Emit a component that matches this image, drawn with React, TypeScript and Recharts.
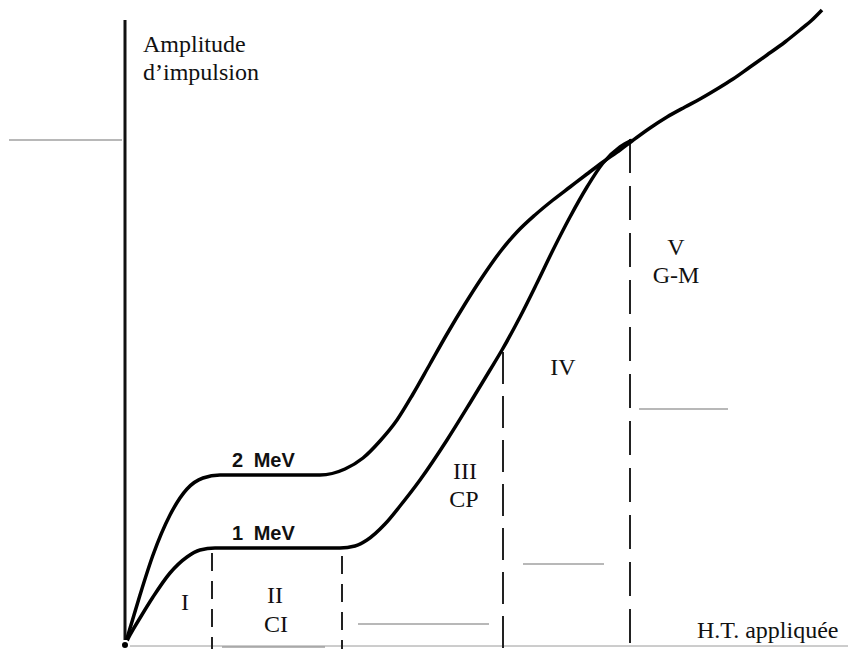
import React from 'react';
import { LineChart, Line, XAxis, YAxis, ReferenceLine, ReferenceDot } from 'recharts';

// Units: v = applied voltage (arbitrary), a = pulse amplitude (arbitrary)
const curve2MeV = [
  { v: 0, a: 0 }, { v: 6, a: 20 }, { v: 15, a: 50 }, { v: 28, a: 90 }, { v: 45, a: 130 },
  { v: 62, a: 156 }, { v: 78, a: 167 }, { v: 95, a: 170 }, { v: 195, a: 170 }, { v: 220, a: 176 },
  { v: 238, a: 187 }, { v: 255, a: 204 }, { v: 272, a: 225 }, { v: 288, a: 251 }, { v: 305, a: 281 },
  { v: 322, a: 311 }, { v: 340, a: 341 }, { v: 358, a: 369 }, { v: 375, a: 393 }, { v: 392, a: 413 },
  { v: 410, a: 430 }, { v: 428, a: 445 }, { v: 445, a: 458 }, { v: 462, a: 471 }, { v: 478, a: 483 },
  { v: 495, a: 495 }, { v: 507, a: 504 }, { v: 525, a: 517 }, { v: 542, a: 528 }, { v: 560, a: 538 },
  { v: 575, a: 546 }, { v: 592, a: 556 }, { v: 608, a: 566 }, { v: 625, a: 578 }, { v: 642, a: 590 },
  { v: 660, a: 603 }, { v: 675, a: 615 }, { v: 687, a: 625 }, { v: 697, a: 635 },
];

const curve1MeV = [
  { v: 0, a: 0 }, { v: 5, a: 10 }, { v: 15, a: 27 }, { v: 28, a: 48 }, { v: 45, a: 72 },
  { v: 62, a: 88 }, { v: 75, a: 95 }, { v: 90, a: 97 }, { v: 215, a: 97 }, { v: 230, a: 99 },
  { v: 242, a: 105 }, { v: 260, a: 121 }, { v: 275, a: 139 }, { v: 295, a: 165 }, { v: 322, a: 205 },
  { v: 345, a: 242 }, { v: 365, a: 275 }, { v: 377, a: 295 }, { v: 395, a: 328 }, { v: 412, a: 362 },
  { v: 428, a: 395 }, { v: 445, a: 428 }, { v: 462, a: 458 }, { v: 478, a: 482 }, { v: 495, a: 498 },
  { v: 507, a: 505 },
];

// Region boundaries (dashed) : position and top
const boundaries = [
  { v: 87, top: 92, dash: '18 10' },
  { v: 217, top: 89, dash: '18 10' },
  { v: 378, top: 293, dash: '32 12' },
  { v: 505, top: 506, dash: '34 13' },
];

// Light scan rule lines
const greyRules = [
  { v1: -116, v2: -3, a: 505 },
  { v1: 514, v2: 603, a: 236 },
  { v1: 398, v2: 479, a: 81 },
  { v1: 233, v2: 364, a: 21 },
  { v1: 97, v2: 200, a: -2 },
];

const serifLabels = [
  { text: 'Amplitude', v: 18, a: 593, anchor: 'start' },
  { text: 'd\u2019impulsion', v: 18, a: 565, anchor: 'start' },
  { text: 'I', v: 60, a: 35, anchor: 'middle' },
  { text: 'II', v: 150, a: 42, anchor: 'middle' },
  { text: 'CI', v: 151, a: 13, anchor: 'middle' },
  { text: 'III', v: 340, a: 166, anchor: 'middle' },
  { text: 'CP', v: 339, a: 138, anchor: 'middle' },
  { text: 'IV', v: 438, a: 270, anchor: 'middle' },
  { text: 'V', v: 551, a: 390, anchor: 'middle' },
  { text: 'G-M', v: 551, a: 362, anchor: 'middle' },
  { text: 'H.T. appliquée', v: 572, a: 7, anchor: 'start' },
];

const curveLabels = [
  { text: '2 MeV', v: 107, a: 178 },
  { text: '1 MeV', v: 107, a: 105 },
];

export default function App() {
  return (
    <div style={{ position: 'absolute', left: 0, top: 0, width: 848, height: 649, background: '#fff' }}>
      <LineChart width={848} height={649} margin={{ top: 0, right: 0, bottom: 0, left: 0 }}>
        <XAxis type="number" dataKey="v" domain={[-125, 723]} hide allowDataOverflow />
        <YAxis type="number" dataKey="a" domain={[-4, 645]} hide allowDataOverflow />

        {greyRules.map((g, i) => (
          <ReferenceLine
            key={'g' + i}
            segment={[{ x: g.v1, y: g.a }, { x: g.v2, y: g.a }]}
            stroke="#b8b8b8"
            strokeWidth={2}
            ifOverflow="visible"
          />
        ))}

        <ReferenceLine
          segment={[{ x: 0, y: -1 }, { x: 723, y: -1 }]}
          stroke="#9a9a9a"
          strokeWidth={1}
          ifOverflow="visible"
        />
        <ReferenceLine
          segment={[{ x: 0, y: 625 }, { x: 0, y: -4 }]}
          stroke="#111"
          strokeWidth={3}
          ifOverflow="visible"
        />

        {boundaries.map((b, i) => (
          <ReferenceLine
            key={'b' + i}
            segment={[{ x: b.v, y: b.top }, { x: b.v, y: -4 }]}
            stroke="#222"
            strokeWidth={2}
            strokeDasharray={b.dash}
            ifOverflow="visible"
          />
        ))}

        <Line
          data={curve2MeV}
          dataKey="a"
          type="monotone"
          stroke="#000"
          strokeWidth={3.5}
          dot={false}
          isAnimationActive={false}
        />
        <Line
          data={curve1MeV}
          dataKey="a"
          type="monotone"
          stroke="#000"
          strokeWidth={3.5}
          dot={false}
          isAnimationActive={false}
        />

        {serifLabels.map((l, i) => (
          <ReferenceDot
            key={'s' + i}
            x={l.v}
            y={l.a}
            r={1}
            ifOverflow="visible"
            shape={(p: any) => (
              <text
                x={p.cx}
                y={p.cy}
                textAnchor={l.anchor}
                fontFamily="'Liberation Serif', 'DejaVu Serif', serif"
                fontSize={24}
                fill="#111"
              >
                {l.text}
              </text>
            )}
          />
        ))}

        {curveLabels.map((l, i) => (
          <ReferenceDot
            key={'c' + i}
            x={l.v}
            y={l.a}
            r={1}
            ifOverflow="visible"
            shape={(p: any) => (
              <text
                x={p.cx}
                y={p.cy}
                textAnchor="start"
                fontFamily="'Liberation Sans', Arial, sans-serif"
                fontSize={20}
                fontWeight="bold"
                fill="#111"
                style={{ wordSpacing: 5 }}
              >
                {l.text}
              </text>
            )}
          />
        ))}
      </LineChart>
    </div>
  );
}
